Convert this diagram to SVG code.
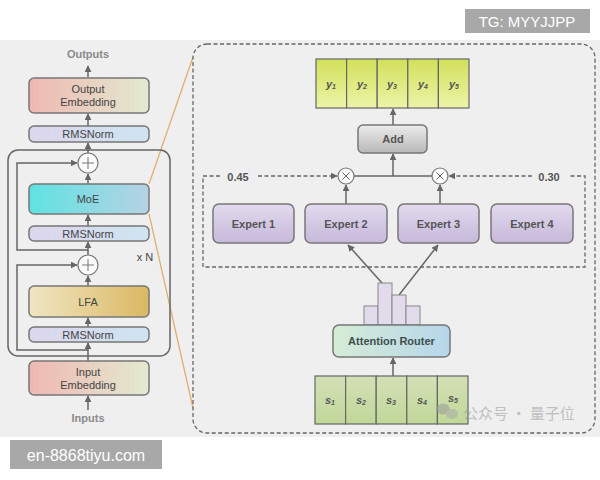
<svg xmlns="http://www.w3.org/2000/svg" width="600" height="480" viewBox="0 0 600 480">
<style>
.box{stroke:#777;stroke-width:1.5}
.lbl{font-family:"Liberation Sans",Arial,sans-serif;font-size:11px;fill:#444;text-anchor:middle;dominant-baseline:central}
.b{font-weight:bold}
.con{fill:none;stroke:#666;stroke-width:1.5}
.dash{fill:none;stroke:#666;stroke-width:1.3;stroke-dasharray:4 2.5}
.cell{stroke:#666;stroke-width:1.2}
.sym{fill:#fafafa;stroke:#777;stroke-width:1.2}
.ital{font-style:italic;font-weight:bold;fill:#555}
</style>
<defs>
<marker id="ah" viewBox="0 0 10 10" refX="9" refY="5" markerWidth="7" markerHeight="7" markerUnits="userSpaceOnUse" orient="auto">
<path d="M0,0 L10,5 L0,10 z" fill="#666"/>
</marker>
<linearGradient id="gEmb" x1="0" x2="1" y1="0" y2="0"><stop offset="0" stop-color="#efb8b2"/><stop offset="1" stop-color="#e2ead0"/></linearGradient>
<linearGradient id="gRms" x1="0" x2="1" y1="0" y2="0"><stop offset="0" stop-color="#dcd6ec"/><stop offset="1" stop-color="#cfe4f0"/></linearGradient>
<linearGradient id="gMoe" x1="0" x2="1" y1="0" y2="0"><stop offset="0" stop-color="#5fe2e2"/><stop offset="1" stop-color="#b6d2e4"/></linearGradient>
<linearGradient id="gLfa" x1="0" x2="1" y1="0" y2="0"><stop offset="0" stop-color="#f0e6c4"/><stop offset="1" stop-color="#dbb862"/></linearGradient>
<linearGradient id="gExp" x1="0" x2="0" y1="0" y2="1"><stop offset="0" stop-color="#e2daee"/><stop offset="1" stop-color="#c6b8da"/></linearGradient>
<linearGradient id="gAdd" x1="0" x2="0" y1="0" y2="1"><stop offset="0" stop-color="#ececec"/><stop offset="1" stop-color="#b8b8b8"/></linearGradient>
<linearGradient id="gRouter" x1="0" x2="1" y1="0" y2="0"><stop offset="0" stop-color="#d6ecd6"/><stop offset="1" stop-color="#b6d6ea"/></linearGradient>
<linearGradient id="gY" x1="0" x2="0" y1="0" y2="1"><stop offset="0" stop-color="#d2e05a"/><stop offset="1" stop-color="#ecf4a8"/></linearGradient>
<linearGradient id="gS" x1="0" x2="0" y1="0" y2="1"><stop offset="0" stop-color="#d4dfb6"/><stop offset="1" stop-color="#c0d898"/></linearGradient>
</defs>

<rect x="0" y="0" width="600" height="480" fill="#ffffff"/>
<rect x="0" y="40" width="600" height="397" fill="#efefef"/>

<!-- watermark boxes -->
<g id="wm-tg"><rect x="465" y="9" width="125" height="24" fill="#a8a8a8"/><text x="527" y="21.5" font-family="Liberation Sans,Arial,sans-serif" font-size="15" fill="#ffffff" text-anchor="middle" dominant-baseline="central">TG: MYYJJPP</text></g>
<g id="wm-site"><rect x="10" y="440" width="152" height="29" fill="#a8a8a8"/><text x="86" y="455" font-family="Liberation Sans,Arial,sans-serif" font-size="16" fill="#ffffff" text-anchor="middle" dominant-baseline="central">en-8868tiyu.com</text></g>

<!-- orange zoom lines -->
<g id="zoom-lines" fill="none" stroke="#e0b070" stroke-width="1.3">
<line x1="149" y1="184" x2="193" y2="57"/>
<line x1="149" y1="214" x2="193" y2="408"/>
</g>

<!-- left column container -->
<rect x="8" y="150" width="162" height="206" rx="10" fill="none" stroke="#666" stroke-width="1.5"/>

<g id="connectors">
<line class="con" x1="88" y1="77" x2="88" y2="66" marker-end="url(#ah)"/>
<line class="con" x1="88" y1="126" x2="88" y2="114" marker-end="url(#ah)"/>
<line class="con" x1="88" y1="153" x2="88" y2="143" marker-end="url(#ah)"/>
<line class="con" x1="88" y1="184" x2="88" y2="174" marker-end="url(#ah)"/>
<line class="con" x1="88" y1="226" x2="88" y2="215" marker-end="url(#ah)"/>
<line class="con" x1="88" y1="255" x2="88" y2="242" marker-end="url(#ah)"/>
<line class="con" x1="88" y1="286" x2="88" y2="276" marker-end="url(#ah)"/>
<line class="con" x1="88" y1="327" x2="88" y2="318" marker-end="url(#ah)"/>
<line class="con" x1="88" y1="361" x2="88" y2="343" marker-end="url(#ah)"/>
<line class="con" x1="88" y1="410" x2="88" y2="396" marker-end="url(#ah)"/>
<path class="con" d="M88,250 H17 V163 H77" marker-end="url(#ah)"/>
<path class="con" d="M88,350 H17 V265 H77" marker-end="url(#ah)"/>

<line class="con" x1="393" y1="125" x2="393" y2="109" marker-end="url(#ah)"/>
<line class="con" x1="393" y1="176" x2="393" y2="154" marker-end="url(#ah)"/>
<line class="con" x1="354" y1="176" x2="432" y2="176"/>
<line class="con" x1="346" y1="204" x2="346" y2="185" marker-end="url(#ah)"/>
<line class="con" x1="440" y1="204" x2="440" y2="185" marker-end="url(#ah)"/>
<line class="con" x1="382" y1="283" x2="348" y2="245" marker-end="url(#ah)"/>
<line class="con" x1="399" y1="295" x2="438" y2="245" marker-end="url(#ah)"/>
<line class="con" x1="393" y1="376" x2="393" y2="358" marker-end="url(#ah)"/>

<path class="dash" d="M220,176 H203 V267 H585 V176 H570"/>
<line class="dash" x1="258" y1="176" x2="337" y2="176" marker-end="url(#ah)"/>
<line class="dash" x1="532" y1="176" x2="449" y2="176" marker-end="url(#ah)"/>
</g>

<!-- left nodes -->
<text class="lbl b" x="88" y="54" fill="#888" style="fill:#8a8a8a">Outputs</text>
<g id="output-embedding"><rect class="box" x="29" y="78" width="120" height="35" rx="5" fill="url(#gEmb)"/><text class="lbl" x="88" y="89">Output</text><text class="lbl" x="88" y="102">Embedding</text></g>
<g id="rmsnorm-top"><rect class="box" x="29" y="126" width="120" height="16" rx="5" fill="url(#gRms)"/><text class="lbl" x="88" y="134">RMSNorm</text></g>
<g id="plus-top"><circle class="sym" cx="88" cy="163" r="10"/><path d="M82,163 H94 M88,157 V169" stroke="#777" stroke-width="1"/></g>
<g id="moe"><rect class="box" x="29" y="184" width="120" height="30" rx="5" fill="url(#gMoe)"/><text class="lbl" x="88" y="199">MoE</text></g>
<g id="rmsnorm-mid"><rect class="box" x="29" y="226" width="120" height="15" rx="5" fill="url(#gRms)"/><text class="lbl" x="88" y="233.5">RMSNorm</text></g>
<text class="lbl" x="145" y="257">x N</text>
<g id="plus-bottom"><circle class="sym" cx="88" cy="265" r="10"/><path d="M82,265 H94 M88,259 V271" stroke="#777" stroke-width="1"/></g>
<g id="lfa"><rect class="box" x="29" y="286" width="120" height="31" rx="5" fill="url(#gLfa)"/><text class="lbl" x="88" y="301.5">LFA</text></g>
<g id="rmsnorm-bottom"><rect class="box" x="29" y="327" width="120" height="15" rx="5" fill="url(#gRms)"/><text class="lbl" x="88" y="334.5">RMSNorm</text></g>
<g id="input-embedding"><rect class="box" x="29" y="361" width="120" height="34" rx="5" fill="url(#gEmb)"/><text class="lbl" x="88" y="372">Input</text><text class="lbl" x="88" y="385">Embedding</text></g>
<text class="lbl b" x="88" y="418" style="fill:#8a8a8a">Inputs</text>

<!-- right panel -->
<rect x="193" y="44" width="402" height="389" rx="14" fill="none" stroke="#666" stroke-width="1.3" stroke-dasharray="4 2.5"/>

<g id="y-cells">
<rect class="cell" x="316" y="59" width="30.6" height="49" fill="url(#gY)"/>
<rect class="cell" x="346.6" y="59" width="30.6" height="49" fill="url(#gY)"/>
<rect class="cell" x="377.2" y="59" width="30.6" height="49" fill="url(#gY)"/>
<rect class="cell" x="407.8" y="59" width="30.6" height="49" fill="url(#gY)"/>
<rect class="cell" x="438.4" y="59" width="30.6" height="49" fill="url(#gY)"/>
<text class="lbl ital" x="331" y="84">y<tspan font-size="7" dy="2">1</tspan></text>
<text class="lbl ital" x="362" y="84">y<tspan font-size="7" dy="2">2</tspan></text>
<text class="lbl ital" x="392" y="84">y<tspan font-size="7" dy="2">3</tspan></text>
<text class="lbl ital" x="423" y="84">y<tspan font-size="7" dy="2">4</tspan></text>
<text class="lbl ital" x="454" y="84">y<tspan font-size="7" dy="2">5</tspan></text>
</g>
<g id="add"><rect class="box" x="358" y="125" width="69" height="28" rx="5" fill="url(#gAdd)"/><text class="lbl b" x="393" y="139" style="fill:#555">Add</text></g>
<g id="mul-left"><circle class="sym" cx="346" cy="176" r="8"/><path d="M342.5,172.5 L349.5,179.5 M349.5,172.5 L342.5,179.5" stroke="#666" stroke-width="1"/></g>
<g id="mul-right"><circle class="sym" cx="440" cy="176" r="8"/><path d="M436.5,172.5 L443.5,179.5 M443.5,172.5 L436.5,179.5" stroke="#666" stroke-width="1"/></g>
<text class="lbl b" x="238" y="177" style="fill:#555">0.45</text>
<text class="lbl b" x="549" y="177" style="fill:#555">0.30</text>

<g id="expert-1"><rect class="box" x="213" y="204" width="81" height="39" rx="6" fill="url(#gExp)"/><text class="lbl b" x="253.5" y="224" style="fill:#555">Expert 1</text></g>
<g id="expert-2"><rect class="box" x="305" y="204" width="82" height="39" rx="6" fill="url(#gExp)"/><text class="lbl b" x="346" y="224" style="fill:#555">Expert 2</text></g>
<g id="expert-3"><rect class="box" x="398" y="204" width="81" height="39" rx="6" fill="url(#gExp)"/><text class="lbl b" x="438.5" y="224" style="fill:#555">Expert 3</text></g>
<g id="expert-4"><rect class="box" x="491" y="204" width="82" height="39" rx="6" fill="url(#gExp)"/><text class="lbl b" x="532" y="224" style="fill:#555">Expert 4</text></g>

<g id="histogram" fill="#e2dbec" stroke="#888" stroke-width="1">
<rect x="364" y="306" width="14" height="19"/>
<rect x="378" y="283" width="14" height="42"/>
<rect x="392" y="295" width="14" height="30"/>
<rect x="406" y="306" width="14" height="19"/>
</g>
<g id="attention-router"><rect class="box" x="333" y="325" width="117" height="32" rx="6" fill="url(#gRouter)"/><text class="lbl b" x="391.5" y="341" style="fill:#3e4e4e">Attention Router</text></g>

<g id="s-cells">
<rect class="cell" x="315" y="376" width="30.6" height="48" fill="url(#gS)"/>
<rect class="cell" x="345.6" y="376" width="30.6" height="48" fill="url(#gS)"/>
<rect class="cell" x="376.2" y="376" width="30.6" height="48" fill="url(#gS)"/>
<rect class="cell" x="406.8" y="376" width="30.6" height="48" fill="url(#gS)"/>
<rect class="cell" x="437.4" y="376" width="30.6" height="48" fill="url(#gS)"/>
<text class="lbl ital" x="330" y="400">s<tspan font-size="7" dy="2">1</tspan></text>
<text class="lbl ital" x="361" y="400">s<tspan font-size="7" dy="2">2</tspan></text>
<text class="lbl ital" x="391" y="400">s<tspan font-size="7" dy="2">3</tspan></text>
<text class="lbl ital" x="422" y="400">s<tspan font-size="7" dy="2">4</tspan></text>
<text class="lbl ital" x="453" y="398">s<tspan font-size="7" dy="2">5</tspan></text>
</g>

<!-- wechat watermark -->
<g id="wm-wechat" opacity="0.55">
<ellipse cx="443" cy="409" rx="6.5" ry="5.5" fill="#999"/>
<ellipse cx="452" cy="414" rx="6" ry="5" fill="#aaa"/>
<text x="463" y="419" font-family="Noto Sans CJK SC,sans-serif" font-size="15" fill="#999">公众号 · 量子位</text>
</g>
</svg>
